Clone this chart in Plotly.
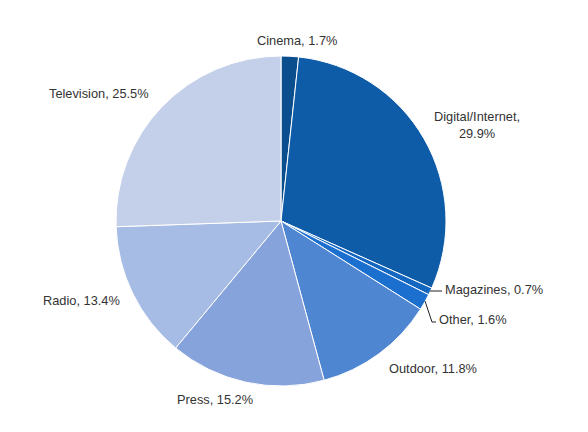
import plotly.graph_objects as go

categories = ["Cinema", "Digital/Internet", "Magazines", "Other", "Outdoor", "Press", "Radio", "Television"]
shares = [1.7, 29.9, 0.7, 1.6, 11.8, 15.2, 13.4, 25.5]
label_texts = ["Cinema, 1.7%", "Digital/Internet,<br>29.9%", "Magazines, 0.7%", "Other, 1.6%",
               "Outdoor, 11.8%", "Press, 15.2%", "Radio, 13.4%", "Television, 25.5%"]

colors = ["#0b4e8e", "#0e5ca7", "#1467c0", "#1a6fcf", "#4e86d2", "#87a3db", "#a7bce4", "#c4d0ea"]

W, H = 588, 432
OFF = 8  # page body margin offset
cx, cy, R = 281, 221, 165

# label anchor positions in window pixels (x, y, xanchor)
label_pos = [(297, 40, "center"), (477, 125, "center"), (443, 289, "left"), (437, 319, "left"),
             (433, 368, "center"), (215, 399, "center"), (81, 300, "center"), (99, 93, "center")]

def px(x):
    return (x - OFF) / W

def py(y):
    return 1 - (y - OFF) / H

fig = go.Figure(go.Pie(
    labels=categories, values=shares, sort=False, direction="clockwise", rotation=0,
    marker=dict(colors=colors, line=dict(color="white", width=1)),
    textinfo="none", hoverinfo="label+percent", showlegend=False,
    domain=dict(x=[px(cx - R), px(cx + R)], y=[py(cy + R), py(cy - R)]),
))

annotations = []
for t, (x, y, xa) in zip(label_texts, label_pos):
    annotations.append(dict(x=px(x), y=py(y), xref="paper", yref="paper", text=t, showarrow=False,
                            xanchor=xa, yanchor="middle",
                            font=dict(family="Liberation Sans, Arial", size=12.8, color="#333333")))

shapes = [
    dict(type="line", xref="paper", yref="paper", x0=px(430), y0=py(291), x1=px(442), y1=py(291),
         line=dict(color="#222", width=1)),
    dict(type="path", xref="paper", yref="paper",
         path=f"M {px(425)} {py(301)} L {px(432)} {py(322)} L {px(436)} {py(322)}",
         line=dict(color="#222", width=1)),
]

fig.update_layout(width=W, height=H, margin=dict(l=0, r=0, t=0, b=0), paper_bgcolor="white",
                  plot_bgcolor="white", annotations=annotations, shapes=shapes)
fig.write_html("out.html")
